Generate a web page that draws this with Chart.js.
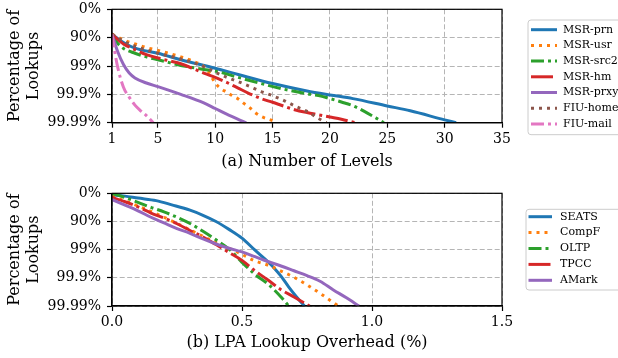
<!DOCTYPE html>
<html>
<head>
<meta charset="utf-8">
<script src="https://cdn.jsdelivr.net/npm/chart.js@4.4.1/dist/chart.umd.min.js"></script>
<style>
  body { margin: 0; background: #fff; }
  #wrap { position: relative; width: 618px; height: 358px; }
  canvas { position: absolute; left: 0; }
  #levels { top: 0; }
  #overhead { top: 179px; }
</style>
</head>
<body>
<div id="wrap">
  <canvas id="levels" width="618" height="179"></canvas>
  <canvas id="overhead" width="618" height="179"></canvas>
</div>
<script>
// y values are "nines": 0 = 0%, 1 = 90%, 2 = 99%, 3 = 99.9%, 4 = 99.99%
const yTicks = [0, 1, 2, 3, 4];
const yLabels = ['0%', '90%', '99%', '99.9%', '99.99%'];

// (a) number of levels
const levelTicks = [1, 5, 10, 15, 20, 25, 30, 35];
const levelNames = ['MSR-prn', 'MSR-usr', 'MSR-src2', 'MSR-hm', 'MSR-prxy', 'FIU-home', 'FIU-mail'];

const prnX = [1, 2, 3, 5, 7, 10, 12, 15, 18, 20, 22, 25, 27, 30, 31];
const prnY = [0.88, 1.17, 1.37, 1.55, 1.78, 2.08, 2.3, 2.62, 2.88, 3.02, 3.15, 3.41, 3.58, 3.9, 4.0];

const usrX = [1, 2, 3, 4, 5, 6, 7, 8, 9, 9.5, 10, 10.5, 11, 11.5, 12, 12.5, 13, 13.5, 14, 14.5, 15, 15.3];
const usrY = [0.88, 1.08, 1.22, 1.35, 1.45, 1.56, 1.68, 1.82, 2.02, 2.25, 2.6, 2.8, 2.92, 3.05, 3.16, 3.32, 3.47, 3.65, 3.78, 3.86, 3.93, 4.0];

const src2X = [1, 1.5, 2, 3, 4, 5, 6, 7, 8, 9, 10, 12, 14, 16, 18, 19, 20, 21, 22, 23, 24, 24.7];
const src2Y = [0.88, 1.2, 1.38, 1.55, 1.68, 1.78, 1.88, 1.98, 2.05, 2.12, 2.18, 2.4, 2.62, 2.82, 2.98, 3.04, 3.15, 3.27, 3.4, 3.6, 3.83, 4.0];

const hmX = [1, 2, 3, 4, 5, 6, 7, 8, 9, 10, 11, 12, 13, 14, 15, 16, 17, 18, 19, 20, 21, 22.2];
const hmY = [0.88, 1.22, 1.42, 1.6, 1.72, 1.82, 1.92, 2.08, 2.25, 2.4, 2.58, 2.78, 2.98, 3.15, 3.28, 3.42, 3.55, 3.64, 3.72, 3.8, 3.88, 4.0];

const prxyX = [1, 1.5, 2, 2.5, 3, 4, 5, 7, 9, 10, 11, 12, 12.7];
const prxyY = [0.88, 1.5, 1.95, 2.25, 2.42, 2.6, 2.73, 3.0, 3.3, 3.5, 3.7, 3.88, 4.0];

const homeX = [1, 2, 3, 5, 7, 9, 10, 11, 12, 13, 14, 15, 16, 17, 18, 19, 19.7];
const homeY = [0.88, 1.12, 1.3, 1.55, 1.75, 2.02, 2.22, 2.4, 2.55, 2.72, 2.9, 3.05, 3.22, 3.42, 3.6, 3.85, 4.0];

const mailX = [1, 1.2, 1.5, 2, 2.5, 3, 3.5, 4, 4.6];
const mailY = [0.88, 1.4, 2.05, 2.75, 3.1, 3.38, 3.58, 3.75, 4.0];

// (b) LPA lookup overhead (%)
const overheadTicks = [0, 0.5, 1.0, 1.5];
const overheadNames = ['SEATS', 'CompF', 'OLTP', 'TPCC', 'AMark'];

const seatsX = [0, 0.05, 0.1, 0.17, 0.23, 0.3, 0.35, 0.4, 0.45, 0.5, 0.55, 0.6, 0.63, 0.65, 0.68, 0.71, 0.74];
const seatsY = [0.05, 0.1, 0.17, 0.26, 0.41, 0.6, 0.78, 1.0, 1.28, 1.59, 2.02, 2.43, 2.72, 2.94, 3.33, 3.68, 4.0];

const compfX = [0, 0.1, 0.2, 0.3, 0.4, 0.49, 0.55, 0.6, 0.65, 0.7, 0.75, 0.8, 0.87];
const compfY = [0.1, 0.45, 0.85, 1.3, 1.75, 2.12, 2.4, 2.55, 2.76, 2.98, 3.25, 3.55, 4.0];

const oltpX = [0, 0.05, 0.1, 0.15, 0.2, 0.25, 0.3, 0.35, 0.4, 0.45, 0.5, 0.55, 0.6, 0.65, 0.68];
const oltpY = [0, 0.15, 0.32, 0.5, 0.66, 0.85, 1.07, 1.35, 1.65, 1.98, 2.45, 2.88, 3.22, 3.68, 4.0];

const tpccX = [0, 0.05, 0.1, 0.15, 0.2, 0.25, 0.3, 0.35, 0.4, 0.45, 0.5, 0.55, 0.6, 0.65, 0.7, 0.76];
const tpccY = [0.15, 0.3, 0.48, 0.7, 0.88, 1.08, 1.32, 1.55, 1.82, 2.1, 2.38, 2.75, 3.08, 3.42, 3.68, 4.0];

const amarkX = [0, 0.05, 0.1, 0.15, 0.2, 0.25, 0.3, 0.35, 0.4, 0.45, 0.5, 0.55, 0.6, 0.65, 0.7, 0.75, 0.8, 0.85, 0.9, 0.95];
const amarkY = [0.22, 0.42, 0.62, 0.85, 1.05, 1.25, 1.42, 1.62, 1.8, 1.95, 2.08, 2.25, 2.42, 2.58, 2.75, 2.92, 3.12, 3.42, 3.7, 4.0];

const FONT = 'DejaVu Serif';
const SOLID = [], DOT = [3, 5], DASHDOT = [13, 4, 3, 4], LONGDASHDOT = [22, 4, 3, 4];

function series(xs, ys) {
	return xs.map((x, i) => ({ x, y: ys[i] }));
}

function makeDatasets(names, xsList, ysList, colors, dashes) {
	const n = names.length;
	return names.map((name, i) => ({
		label: name,
		data: series(xsList[i], ysList[i]),
		borderColor: colors[i],
		borderDash: dashes[i],
		borderWidth: 3,
		borderCapStyle: 'butt',
		borderJoinStyle: 'round',
		pointRadius: 0,
		cubicInterpolationMode: 'monotone',
		fill: false,
		order: n - i   // later series drawn on top, like matplotlib
	}));
}

// frame around the plot area
const framePlugin = {
	id: 'frame',
	afterDatasetsDraw(chart) {
		const { ctx, chartArea: a } = chart;
		ctx.save();
		ctx.strokeStyle = '#000';
		ctx.lineWidth = 1.2;
		ctx.setLineDash([]);
		ctx.strokeRect(a.left, a.top, a.right - a.left, a.bottom - a.top);
		ctx.restore();
	}
};

// legend box on the right, matplotlib style
const boxLegend = {
	id: 'boxLegend',
	afterDraw(chart, args, opts) {
		const ctx = chart.ctx;
		ctx.save();
		ctx.setLineDash([]);
		ctx.beginPath();
		ctx.roundRect(opts.left, opts.top, 120, opts.bottom - opts.top, 3);
		ctx.fillStyle = 'rgba(255,255,255,0.8)';
		ctx.fill();
		ctx.strokeStyle = '#cccccc';
		ctx.lineWidth = 1;
		ctx.stroke();
		chart.data.datasets.forEach((ds, i) => {
			const y = opts.y0 + i * opts.step;
			ctx.strokeStyle = ds.borderColor;
			ctx.lineWidth = 3;
			ctx.lineCap = 'butt';
			ctx.setLineDash(ds.borderDash);
			ctx.beginPath();
			ctx.moveTo(opts.lineX0, y);
			ctx.lineTo(opts.lineX1, y);
			ctx.stroke();
			ctx.setLineDash([]);
			ctx.fillStyle = '#000';
			ctx.font = '11px "' + FONT + '"';
			ctx.textBaseline = 'middle';
			ctx.fillText(ds.label, opts.textX, y);
		});
		ctx.restore();
	}
};

function axisCommon(extra) {
	return Object.assign({
		type: 'linear',
		grid: { color: '#b5b5b5', lineWidth: 1, tickLength: 5, tickColor: '#000', tickWidth: 1.2, tickBorderDash: [] },
		border: { display: true, color: '#000', width: 1.2, dash: [5, 2.5] }
	}, extra);
}

function makeChart(canvasId, datasets, xTicks, xMax, xTitle, xFmt, padTop, xHeight, titlePad, legendOpts) {
	return new Chart(document.getElementById(canvasId), {
		type: 'line',
		data: { datasets },
		options: {
			responsive: false,
			animation: false,
			events: [],
			layout: { padding: { left: 0, right: 116, top: padTop, bottom: 0 } },
			scales: {
				x: axisCommon({
					min: xTicks[0], max: xMax,
					afterBuildTicks: s => { s.ticks = xTicks.map(v => ({ value: v })); },
					afterFit: s => { s.height = xHeight; },
					ticks: { callback: xFmt, font: { family: FONT, size: 14 }, color: '#000', padding: 3, maxRotation: 0, autoSkip: false },
					title: { display: true, text: xTitle, font: { family: FONT, size: 16 }, color: '#000', padding: { top: 0, bottom: titlePad } }
				}),
				y: axisCommon({
					min: 0, max: 4, reverse: true,
					afterBuildTicks: s => { s.ticks = yTicks.map(v => ({ value: v })); },
					afterFit: s => { s.width = 112; },
					// small lineHeight keeps the label overflow from pushing the plot top down
					ticks: { callback: v => yLabels[v], font: { family: FONT, size: 14, lineHeight: 0.2 }, color: '#000', padding: 6 },
					title: { display: true, text: ['Percentage of', 'Lookups'], font: { family: FONT, size: 16, lineHeight: 1.15 }, color: '#000', padding: { top: 6, bottom: 0 } }
				})
			},
			plugins: {
				legend: { display: false },
				tooltip: { enabled: false },
				boxLegend: legendOpts
			}
		},
		plugins: [framePlugin, boxLegend]
	});
}

const tab = ['#1f77b4', '#ff7f0e', '#2ca02c', '#d62728', '#9467bd', '#8c564b', '#e377c2'];

makeChart('levels',
	makeDatasets(levelNames,
		[prnX, usrX, src2X, hmX, prxyX, homeX, mailX],
		[prnY, usrY, src2Y, hmY, prxyY, homeY, mailY],
		tab,
		[SOLID, DOT, DASHDOT, LONGDASHDOT, SOLID, DOT, DASHDOT]),
	levelTicks, 35, '(a) Number of Levels', v => String(v),
	9.3, 56.3, 7.7,
	{ left: 528, top: 20, bottom: 134.7, y0: 29.7, step: 15.7, lineX0: 531, lineX1: 557, textX: 563 });

makeChart('overhead',
	makeDatasets(overheadNames,
		[seatsX, compfX, oltpX, tpccX, amarkX],
		[seatsY, compfY, oltpY, tpccY, amarkY],
		tab.slice(0, 5),
		[SOLID, DOT, DASHDOT, LONGDASHDOT, SOLID]),
	overheadTicks, 1.5, '(b) LPA Lookup Overhead (%)', v => Number(v).toFixed(1),
	14.3, 52, 5.1,
	{ left: 526, top: 30.3, bottom: 111, y0: 37.7, step: 15.9, lineX0: 528.5, lineX1: 552, textX: 560 });
</script>
</body>
</html>
